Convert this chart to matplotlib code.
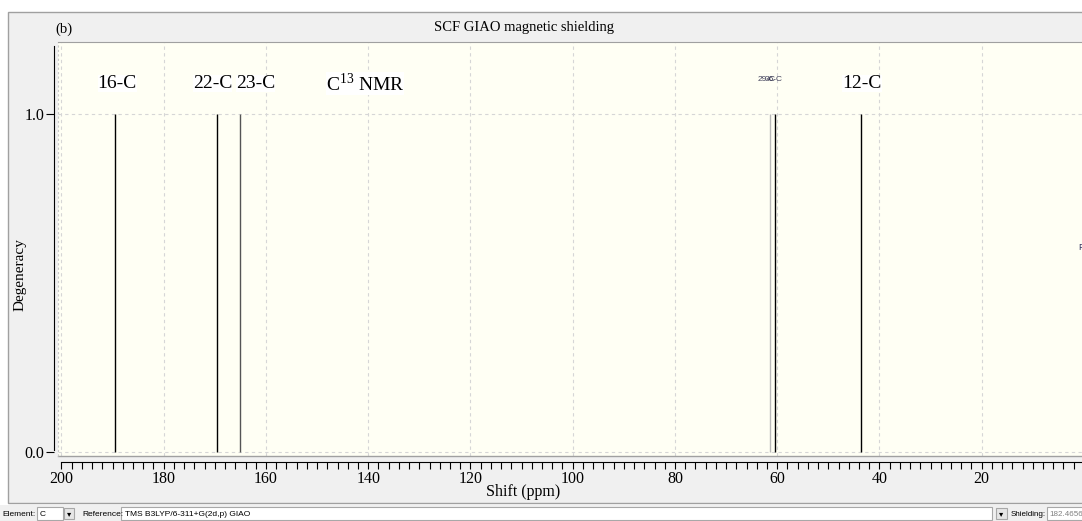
import matplotlib.pyplot as plt
from matplotlib.patches import Rectangle
from matplotlib.ticker import MultipleLocator

plt.rcParams['font.family'] = ['Liberation Serif', 'DejaVu Serif']
plt.rcParams['mathtext.fontset'] = 'custom'
plt.rcParams['mathtext.rm'] = 'Liberation Serif'

# C13 peaks: shift (ppm) and degeneracy
shifts = [189.5, 169.5, 165.1, 61.5, 60.4, 43.7]
degeneracy = [1, 1, 1, 1, 1, 1]
line_colors = ['black', 'black', '#555555', '#b8b8b8', 'black', 'black']

# big labels above the peaks
label_text = ['16-C', '22-C', '23-C', 'C$^{\\mathregular{13}}$ NMR', '12-C']
label_x = [189.1, 170.4, 162.0, 140.6, 43.4]
# tiny overlapped labels
small_text = ['29-C', '36-C']
small_x = [62.0, 60.7]

xticks = [200, 180, 160, 140, 120, 100, 80, 60, 40, 20]
yticks = [0.0, 1.0]
ytick_labels = ['0.0', '1.0']

W, H = 1082, 521
fig = plt.figure(figsize=(W / 100, H / 100), dpi=100)


def fx(x):
    return x / W


def fy(y):
    return 1 - y / H


def box(x0, y0, x1, y1, fc, ec='none', lw=0.8):
    fig.add_artist(Rectangle((fx(x0), fy(y1)), (x1 - x0) / W, (y1 - y0) / H,
                             facecolor=fc, edgecolor=ec, lw=lw,
                             transform=fig.transFigure, zorder=-5))


# window panel and status bar
box(8, 12, 1090, 503, '#f0f0f0', '#a0a0a0', 1)
box(0, 505, 1082, 521, '#f0f0f0')
box(37, 507, 63, 520, 'white', '#a8a8a8')
box(64, 508, 74, 519, '#e6e6e6', '#a8a8a8')
box(121, 507, 992, 520, 'white', '#a8a8a8')
box(996, 508, 1007, 519, '#e6e6e6', '#a8a8a8')
box(1047, 507, 1090, 520, 'white', '#a8a8a8')

ax = fig.add_axes([fx(58), fy(456), (W - 58) / W, (456 - 42) / H])
ax.set_facecolor('#fffff4')
ax.set_axisbelow(True)

ax.vlines(shifts, 0, degeneracy, colors=line_colors, lw=1)

for t, x in zip(label_text, label_x):
    ax.text(x, 1.09, t, ha='center', va='center', fontsize=14,
            bbox=dict(facecolor='white', edgecolor='none', pad=0))
for t, x in zip(small_text, small_x):
    ax.text(x, 1.102, t, ha='center', va='center', fontsize=6,
            family='Liberation Sans', color='#202040', alpha=0.85)
ax.text(1.1, 0.604, 'F', ha='left', va='center', fontsize=6.5,
        family='Liberation Sans', color='#303060')

ax.set_xlim(200.68, 0.38)
ax.set_ylim(-0.011, 1.213)

ax.set_xticks(xticks)
ax.xaxis.set_minor_locator(MultipleLocator(2))
ax.set_yticks(yticks)
ax.set_yticklabels(ytick_labels)
ax.tick_params(axis='x', which='both', direction='out', length=5, width=0.8,
               pad=2, labelsize=11.5)
ax.tick_params(axis='y', direction='out', length=6, width=0.8, pad=1,
               labelsize=11.5)
ax.grid(True, which='major', linestyle=(0, (3, 3)), color='#d6d6d6', lw=0.8)

ax.spines['right'].set_visible(False)
ax.spines['top'].set_color('#a0a0a0')
ax.spines['left'].set_position(('outward', 3))
ax.spines['left'].set_bounds(0.008, 1.2)
ax.spines['left'].set_linewidth(0.8)
ax.spines['bottom'].set_position(('outward', 4))
ax.spines['bottom'].set_bounds(200, 0.38)
ax.spines['bottom'].set_linewidth(0.8)
ax.plot([0, 1], [0, 0], transform=ax.transAxes, color='#a0a0a0', lw=1,
        clip_on=False)
ax.plot([0, 0], [0, 1], transform=ax.transAxes, color='#c8c8c8', lw=0.8,
        ls=(0, (2, 2)), clip_on=False)

fig.text(fx(55), fy(29), '(b)', ha='left', va='center', fontsize=10.5)
fig.text(fx(524), fy(28), 'SCF GIAO magnetic shielding', ha='center',
         va='center', fontsize=10.5)
fig.text(fx(20), fy(275), 'Degeneracy', rotation=90, ha='center',
         va='center', fontsize=11)
fig.text(fx(523), fy(492), 'Shift (ppm)', ha='center', va='center',
         fontsize=11.5)

sans = 'Liberation Sans'
fig.text(fx(2), fy(514), 'Element:', ha='left', va='center', fontsize=6, family=sans)
fig.text(fx(40), fy(514), 'C', ha='left', va='center', fontsize=6, family=sans)
fig.text(fx(82), fy(514), 'Reference:', ha='left', va='center', fontsize=6, family=sans)
fig.text(fx(125), fy(514), 'TMS B3LYP/6-311+G(2d,p) GIAO', ha='left',
         va='center', fontsize=6, family=sans)
fig.text(fx(69), fy(514), '\u25be', ha='center', va='center', fontsize=6,
         family='DejaVu Sans')
fig.text(fx(1001.5), fy(514), '\u25be', ha='center', va='center', fontsize=6,
         family='DejaVu Sans')
fig.text(fx(1011), fy(514), 'Shielding:', ha='left', va='center', fontsize=5.8, family=sans)
fig.text(fx(1049), fy(514), '182.4656', ha='left', va='center', fontsize=5.8,
         family=sans, color='#808080')

fig.savefig('out.png', dpi=100)
